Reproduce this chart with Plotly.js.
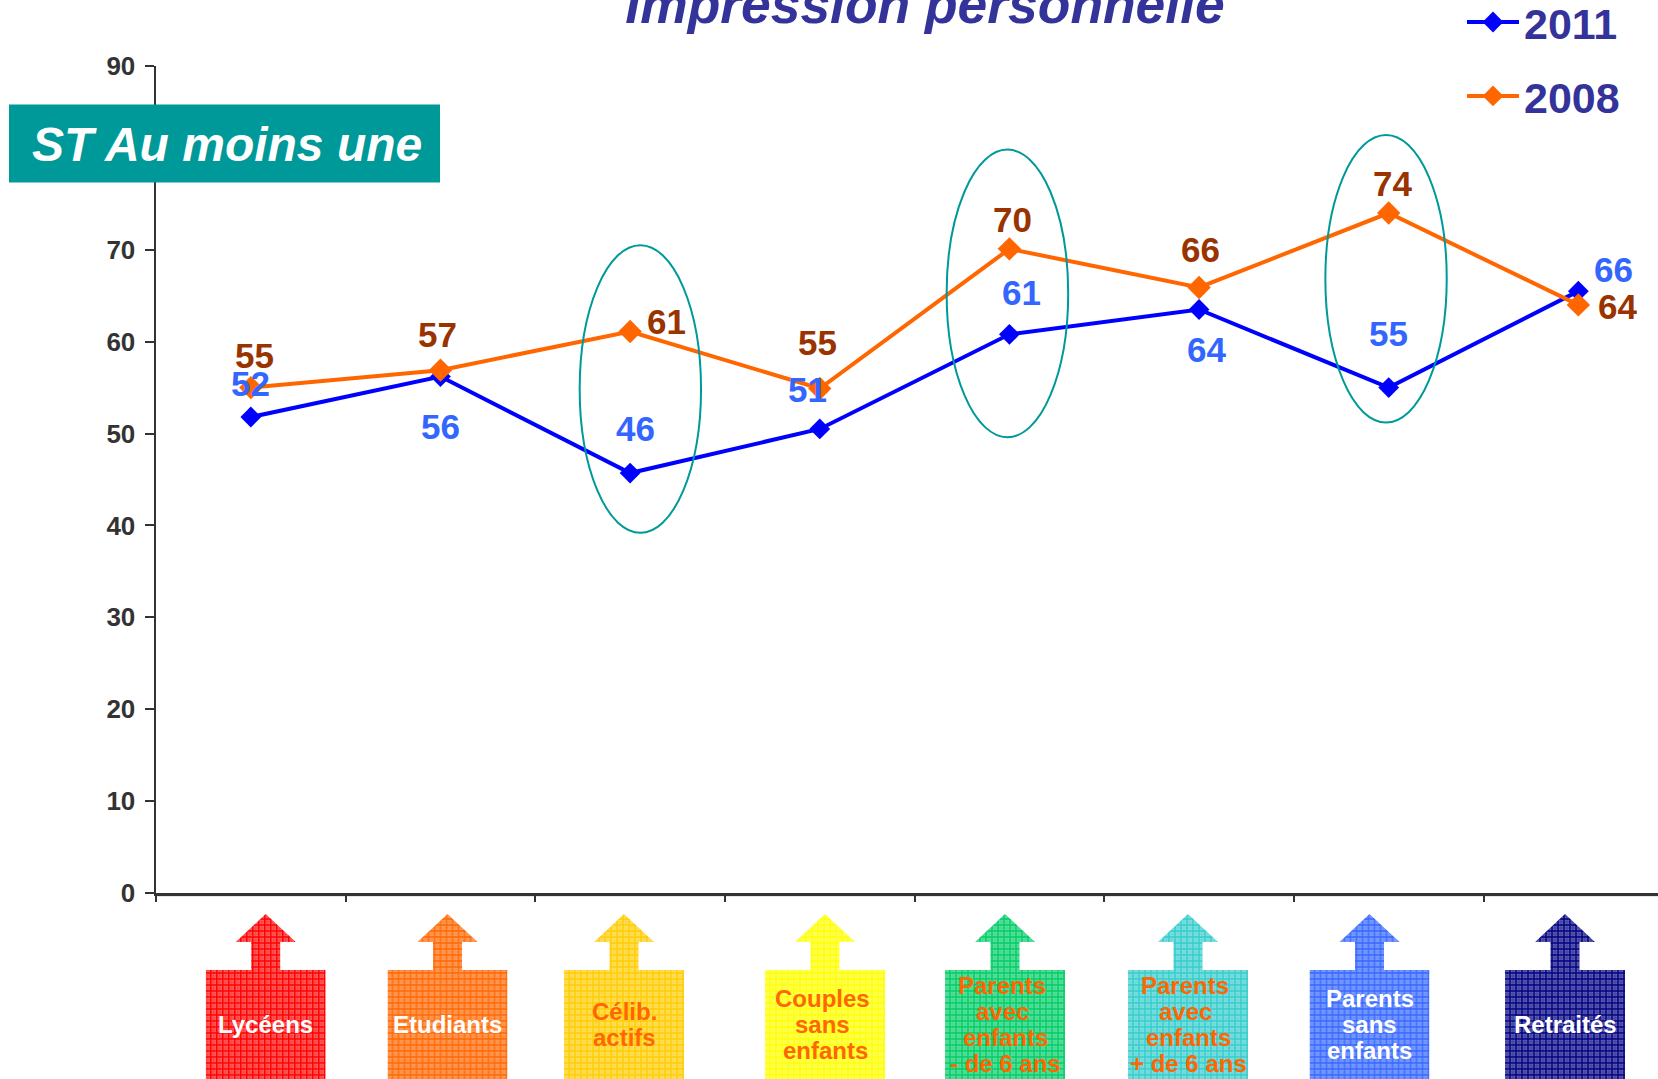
<!DOCTYPE html>
<html><head><meta charset="utf-8">
<script src="https://cdn.plot.ly/plotly-3.0.1.min.js"></script>
<style>html,body{margin:0;padding:0;background:#fff;overflow:hidden}</style>
</head><body><div id="chart" style="width:1658px;height:1079px"></div>
<script>
const categories = ['Lycéens','Etudiants','Célib. actifs','Couples sans enfants','Parents avec enfants - de 6 ans','Parents avec enfants + de 6 ans','Parents sans enfants','Retraités'];
const values2011 = [51.8,56.2,45.7,50.5,60.8,63.5,55,65.5];
const values2008 = [55,56.9,61.1,54.9,70.1,65.9,74,64];
const labels2011 = [52,56,46,51,61,64,55,66];
const labels2008 = [55,57,61,55,70,66,74,64];
const yTicks = [0,10,20,30,40,50,60,70,80,90];
const pictoLines = [['Lycéens'],['Etudiants'],['Célib.','actifs'],['Couples','sans','enfants'],['Parents','avec','enfants','- de 6 ans'],['Parents','avec','enfants','+ de 6 ans'],['Parents','sans','enfants'],['Retraités']];
const pictoColors = ['#FF0000','#FF6600','#FFCC00','#FFFF00','#00CC66','#33CCCC','#3366FF','#000080'];
const pictoText = ['#FFFFFF','#FFFFFF','#FF6600','#FF6600','#FF6600','#FF6600','#FFFFFF','#FFFFFF'];
const pictoCenters = [265.7,447.5,624,825,1005,1188,1369.5,1565];
const pictoNudge = [[0],[0],[0,0],[-3,-3,0],[-3,-3,0,0],[-3,-3,0,0],[0,0,0],[0]];
const shift2011 = [[0,34],[0,-50],[5,45],[-12,39],[12,42],[7,-40],[0,54],[35,22]];
const shift2008 = [[4,32],[-3,36],[36,10],[-2,46],[3,29],[1,38],[4,30],[39,-2]];
const circled = [[1.734,2.374,39.2,70.5],[3.669,4.31,49.6,80.9],[5.666,6.306,51.2,82.5]];

const W=1658,H=1079,L=156,T=65.5,B=893;
const FONT='"Liberation Sans", Arial, sans-serif';
const px=x=>(x-L)/(W-L), py=y=>(B-y)/(B-T);

function picto(color,i){
  const svg=`<svg xmlns="http://www.w3.org/2000/svg" width="120" height="165" viewBox="0 0 120 165"><defs><pattern id="p${i}" width="6" height="6" patternUnits="userSpaceOnUse"><rect width="6" height="6" fill="${color}" opacity="0.62"/><path d="M2 0V6M0 2H6" stroke="${color}" stroke-width="1" opacity="0.35"/><path d="M5 0V6M0 5H6" stroke="${color}" stroke-width="1.4"/></pattern></defs><path d="M60 0L90 28H74.5V56H120V165H0V56H45.5V28H30Z" fill="url(#p${i})"/></svg>`;
  return 'data:image/svg+xml;base64,'+btoa(svg);
}
const images=pictoCenters.map((c,i)=>({source:picto(pictoColors[i],i),xref:'paper',yref:'paper',x:px(c-60),y:py(914),sizex:120/(W-L),sizey:165/(B-T),sizing:'stretch',xanchor:'left',yanchor:'top',layer:'above'}));

const annotations=[];
function valueLabels(vals,labs,shift,color){
  labs.forEach((t,i)=>annotations.push({x:categories[i],y:vals[i],xref:'x',yref:'y',text:String(t),showarrow:false,xanchor:'center',yanchor:'middle',xshift:shift[i][0],yshift:shift[i][1],font:{family:FONT,size:35,color:color,weight:700}}));
}
valueLabels(values2008,labels2008,shift2008,'#993300');
valueLabels(values2011,labels2011,shift2011,'#3366FF');
pictoLines.forEach((lines,i)=>lines.forEach((t,k)=>annotations.push({xref:'paper',yref:'paper',x:px(pictoCenters[i]+pictoNudge[i][k]),y:py(1024.5+(k-(lines.length-1)/2)*26),text:t,showarrow:false,xanchor:'center',yanchor:'middle',font:{family:FONT,size:24,color:pictoText[i],weight:700}})));
annotations.push({xref:'paper',yref:'paper',x:px(227),y:py(144),text:'<b><i>ST Au moins une</i></b>',showarrow:false,xanchor:'center',yanchor:'middle',font:{family:FONT,size:48,color:'#FFFFFF'}});

const shapes=circled.map(e=>({type:'circle',xref:'x',yref:'y',x0:e[0],x1:e[1],y0:e[2],y1:e[3],line:{color:'#009999',width:2},layer:'above'}));
shapes.push({type:'rect',xref:'paper',yref:'paper',x0:px(9),x1:px(440),y0:py(104),y1:py(182),fillcolor:'#009999',line:{width:0},layer:'above'});
shapes.push({type:'line',xref:'paper',yref:'paper',x0:0,x1:1,y0:py(895.5),y1:py(895.5),line:{color:'#999999',width:1.5},layer:'below'});

const series=(name,y,color,size)=>({type:'scatter',mode:'lines+markers',name:name,x:categories,y:y,legendgroup:name,line:{color:color,width:4},marker:{symbol:'diamond',color:color,size:size}});
const data=[series('2011',values2011,'#0000FF',16),series('2008',values2008,'#FF6600',18)];

const layout={width:W,height:H,paper_bgcolor:'#fff',plot_bgcolor:'#fff',margin:{l:L,r:0,t:T,b:H-B,pad:0,autoexpand:false},
 title:{text:'<b><i>Impression personnelle</i></b>',x:925/W,xanchor:'center',y:1-4/H,yanchor:'middle',font:{family:FONT,size:53.4,color:'#333399'}},
 xaxis:{type:'category',categories:categories,categoryorder:'array',categoryarray:categories,range:[-0.5,7.42],tickson:'boundaries',ticks:'outside',ticklen:6,tickwidth:2,tickcolor:'#333',showticklabels:false,showline:true,linecolor:'#333',linewidth:3,showgrid:false,zeroline:false,fixedrange:true},
 yaxis:{range:[0,90],tickmode:'array',tickvals:yTicks,ticktext:yTicks.map(String),ticks:'outside',ticklen:9,tickwidth:2,tickcolor:'#333',showline:true,linecolor:'#333',linewidth:2.5,showgrid:false,zeroline:false,ticklabelstandoff:4,tickfont:{family:FONT,size:26,color:'#333',weight:700},fixedrange:true},
 legend:{x:px(1462),xanchor:'left',y:py(-13),yanchor:'top',bgcolor:'rgba(0,0,0,0)',traceorder:'grouped',tracegroupgap:15,itemwidth:52,font:{family:FONT,size:43,color:'#333399',weight:700}},
 shapes:shapes,annotations:annotations,images:images};
Plotly.newPlot('chart',data,layout,{displayModeBar:false,staticPlot:true});
</script></body></html>
